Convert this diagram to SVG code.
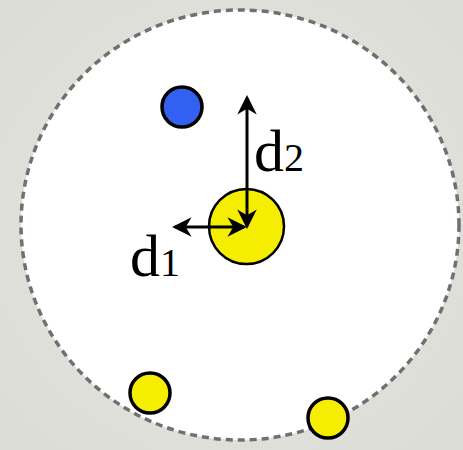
<svg xmlns="http://www.w3.org/2000/svg" width="463" height="450" viewBox="0 0 463 450">
<defs>
<style>
.dot{stroke:#000;stroke-width:3.5}
.arr{stroke:#000;stroke-width:3;fill:none;marker-start:url(#ah);marker-end:url(#ah)}
.lbl{font-family:"Liberation Serif","DejaVu Serif",serif;fill:#000}
</style>
<marker id="ah" viewBox="0 0 20 20" refX="17" refY="10" markerWidth="6.5" markerHeight="6.5" orient="auto-start-reverse" markerUnits="strokeWidth">
<path d="M20 10 L0 0 L6 10 L0 20 Z" fill="#000"/>
</marker>
<filter id="soft" x="-5%" y="-5%" width="110%" height="110%"><feGaussianBlur stdDeviation="0.6"/></filter>
<radialGradient id="bg" cx="50%" cy="50%" r="70%"><stop offset="0" stop-color="#e6e6e2"/><stop offset="1" stop-color="#dcdcd7"/></radialGradient>
</defs>
<rect width="463" height="450" fill="url(#bg)"/>
<g id="region">
<ellipse cx="240" cy="225" rx="219" ry="215" fill="#fff" stroke="#707070" stroke-width="3.5" stroke-dasharray="7 5" filter="url(#soft)"/>
</g>
<g id="blue"><circle class="dot" cx="182" cy="107" r="20" fill="#3060f0" filter="url(#soft)"/></g>
<g id="center"><circle cx="246.5" cy="226.5" r="37.5" fill="#f5ee00" stroke="#000" stroke-width="2.5"/></g>
<g id="y1"><circle class="dot" cx="150" cy="393" r="20" fill="#f5ee00" filter="url(#soft)"/></g>
<g id="y2"><circle class="dot" cx="328" cy="418" r="20" fill="#f5ee00" filter="url(#soft)"/></g>
<g id="connectors">
<line class="arr" x1="247" y1="98" x2="247" y2="226"/>
<line class="arr" x1="175" y1="227" x2="244" y2="227"/>
</g>
<g id="labels">
<text class="lbl" x="254" y="171" font-size="60">d<tspan font-size="40">2</tspan></text>
<text class="lbl" x="130" y="276" font-size="60">d<tspan font-size="40">1</tspan></text>
</g>
</svg>
